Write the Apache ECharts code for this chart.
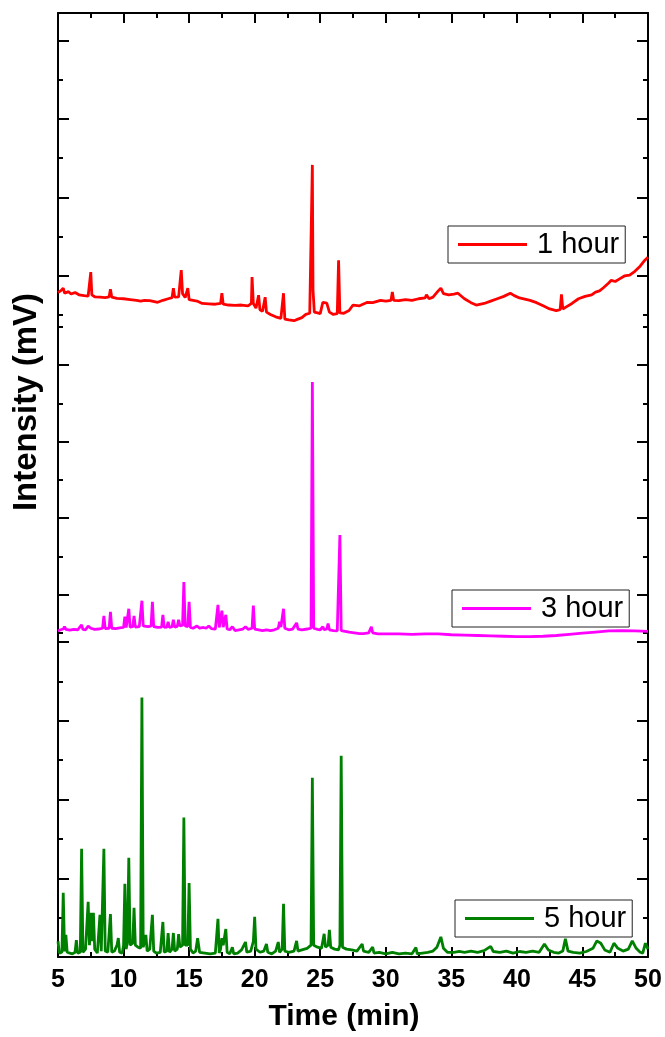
<!DOCTYPE html>
<html>
<head>
<meta charset="utf-8">
<script src="https://cdn.jsdelivr.net/npm/echarts@6/dist/echarts.min.js"></script>
<style>
  html, body { margin: 0; padding: 0; background: #fff; }
  #chart { width: 665px; height: 1037px; }
</style>
</head>
<body>
<div id="chart"></div>
<script>
// x axis (min)
var timeTicks = [5, 10, 15, 20, 25, 30, 35, 40, 45, 50];

// chromatograms: [time (min), intensity (arb. mV)]
var hour1 = [
  [5.0, 58], [5.2, 62], [5.4, 69], [5.5, 56], [5.8, 60], [6.0, 54], [6.3, 58], [6.6, 52], [7.0, 50], [7.3, 49],
  [7.45, 52], [7.5, 110], [7.58, 52], [7.8, 47], [8.2, 46], [8.6, 45], [8.9, 47], [9.0, 66], [9.1, 46], [9.5, 43],
  [10.0, 42], [10.5, 40], [11.0, 38], [11.3, 36], [11.6, 38], [12.0, 37], [12.6, 33], [13.0, 38], [13.4, 42], [13.7, 45],
  [13.8, 69], [13.9, 46], [14.2, 47], [14.35, 50], [14.4, 115], [14.5, 55], [14.7, 45], [14.9, 69], [15.0, 40], [15.3, 38],
  [15.6, 36], [16.0, 30], [16.5, 29], [17.0, 28], [17.4, 30], [17.5, 56], [17.6, 28], [18.0, 26], [18.5, 25], [19.0, 26],
  [19.5, 24], [19.75, 30], [19.8, 97], [19.9, 30], [20.1, 18], [20.3, 51], [20.4, 14], [20.6, 10], [20.8, 46], [20.9, 8],
  [21.2, 2], [21.6, -4], [22.0, -8], [22.15, -6], [22.2, 56], [22.3, -10], [22.6, -12], [23.0, -14], [23.3, -10], [23.6, -6],
  [23.9, 2], [24.2, 5], [24.35, 6], [24.4, 383], [24.45, 64], [24.55, 8], [24.8, 6], [25.0, 4], [25.2, 33], [25.5, 31],
  [25.7, 8], [26.0, 2], [26.3, 4], [26.4, 140], [26.5, 6], [26.8, 5], [27.2, 12], [27.5, 26], [28.0, 24], [28.6, 33],
  [29.0, 32], [29.6, 38], [30.0, 36], [30.4, 38], [30.5, 59], [30.6, 38], [31.0, 37], [31.5, 40], [32.0, 38], [32.5, 42],
  [33.0, 44], [33.1, 52], [33.3, 42], [33.6, 46], [34.0, 62], [34.2, 69], [34.4, 55], [34.8, 52], [35.2, 54], [35.5, 56],
  [36.0, 42], [36.5, 32], [36.9, 26], [37.5, 30], [38.0, 36], [38.5, 42], [39.0, 48], [39.5, 56], [39.8, 50], [40.2, 44],
  [41.0, 38], [41.5, 32], [42.0, 24], [42.5, 16], [43.0, 12], [43.3, 14], [43.4, 53], [43.5, 16], [43.8, 22], [44.2, 30],
  [44.7, 42], [45.2, 48], [45.7, 52], [46.0, 59], [46.3, 62], [46.6, 70], [47.0, 82], [47.2, 89], [47.5, 86], [47.8, 92],
  [48.2, 100], [48.6, 102], [49.0, 112], [49.4, 125], [49.7, 138], [50.0, 148]
];

var hour3 = [
  [5.0, 5], [5.2, 8], [5.4, 10], [5.5, 16], [5.6, 9], [5.9, 7], [6.2, 9], [6.5, 8], [6.8, 21], [6.9, 9],
  [7.1, 8], [7.3, 18], [7.5, 12], [7.8, 9], [8.1, 10], [8.4, 12], [8.5, 44], [8.6, 11], [8.9, 12], [9.0, 55],
  [9.1, 12], [9.4, 11], [9.7, 13], [10.0, 14], [10.1, 42], [10.2, 14], [10.3, 16], [10.4, 63], [10.5, 15], [10.7, 16],
  [10.8, 44], [10.9, 15], [11.2, 16], [11.3, 18], [11.4, 84], [11.5, 18], [11.7, 17], [11.9, 16], [12.1, 18], [12.2, 81],
  [12.3, 16], [12.6, 14], [12.9, 15], [13.0, 47], [13.1, 14], [13.3, 15], [13.4, 29], [13.5, 14], [13.7, 16], [13.8, 34],
  [13.9, 15], [14.1, 17], [14.2, 34], [14.3, 18], [14.5, 20], [14.6, 133], [14.7, 18], [14.9, 16], [15.0, 81], [15.1, 14],
  [15.3, 12], [15.6, 18], [15.8, 12], [16.1, 14], [16.3, 12], [16.5, 18], [16.7, 11], [17.0, 10], [17.1, 14], [17.2, 73],
  [17.3, 14], [17.4, 16], [17.5, 58], [17.6, 15], [17.8, 47], [17.9, 10], [18.1, 8], [18.3, 16], [18.5, 6], [18.8, 8],
  [19.1, 10], [19.3, 16], [19.5, 9], [19.8, 12], [19.9, 71], [20.0, 10], [20.3, 8], [20.6, 6], [20.9, 8], [21.2, 6],
  [21.5, 8], [21.8, 12], [21.9, 29], [22.0, 15], [22.2, 63], [22.3, 12], [22.6, 8], [22.9, 10], [23.2, 26], [23.3, 10],
  [23.6, 8], [24.0, 10], [24.3, 12], [24.4, 656], [24.5, 12], [24.8, 9], [25.0, 8], [25.2, 16], [25.3, 8], [25.5, 10],
  [25.6, 24], [25.7, 8], [26.0, 6], [26.3, 5], [26.4, 8], [26.5, 256], [26.6, 6], [26.9, 4], [27.2, 2], [27.6, 0],
  [28.0, -2], [28.1, 3], [28.3, -2], [28.7, 0], [28.9, 16], [29.0, 0], [29.4, -3], [30.0, -3], [31.0, -3], [32.0, -4],
  [33.0, -3], [34.0, -3], [35.0, -5], [36.0, -6], [37.0, -7], [38.0, -8], [39.0, -9], [40.0, -10], [41.0, -10], [42.0, -9],
  [43.0, -7], [44.0, -4], [45.0, -1], [46.0, 2], [47.0, 5], [48.0, 6], [49.0, 5], [50.0, 4]
];

var hour5 = [
  [5.0, 40], [5.1, 10], [5.3, 12], [5.4, 163], [5.5, 14], [5.6, 56], [5.7, 12], [5.9, 10], [6.1, 8], [6.3, 12],
  [6.4, 43], [6.5, 10], [6.7, 12], [6.8, 275], [6.9, 12], [7.1, 20], [7.3, 140], [7.4, 30], [7.5, 112], [7.6, 40],
  [7.7, 112], [7.8, 20], [8.0, 10], [8.1, 15], [8.2, 107], [8.3, 15], [8.4, 20], [8.5, 275], [8.6, 15], [8.8, 12],
  [9.0, 109], [9.1, 12], [9.3, 15], [9.5, 30], [9.6, 48], [9.7, 12], [9.9, 10], [10.0, 30], [10.1, 186], [10.2, 20],
  [10.3, 40], [10.4, 252], [10.5, 30], [10.7, 35], [10.8, 125], [10.9, 30], [11.1, 25], [11.3, 22], [11.4, 659], [11.5, 25],
  [11.7, 56], [11.8, 15], [12.0, 20], [12.2, 107], [12.3, 15], [12.5, 10], [12.8, 12], [13.0, 89], [13.1, 12], [13.3, 15],
  [13.4, 61], [13.5, 12], [13.7, 20], [13.8, 61], [13.9, 15], [14.1, 20], [14.2, 58], [14.3, 25], [14.5, 30], [14.6, 354],
  [14.7, 30], [14.9, 30], [15.0, 188], [15.1, 20], [15.3, 10], [15.5, 15], [15.65, 48], [15.8, 12], [16.2, 10], [16.6, 8],
  [17.0, 10], [17.2, 97], [17.3, 10], [17.4, 20], [17.5, 48], [17.6, 30], [17.8, 71], [17.9, 12], [18.1, 8], [18.3, 25],
  [18.4, 8], [18.7, 10], [19.0, 18], [19.3, 38], [19.4, 12], [19.7, 15], [19.9, 40], [20.0, 102], [20.1, 20], [20.4, 12],
  [20.7, 15], [20.9, 33], [21.0, 12], [21.3, 8], [21.6, 15], [21.8, 38], [21.9, 12], [22.1, 20], [22.2, 135], [22.3, 15],
  [22.6, 12], [23.0, 15], [23.2, 41], [23.3, 15], [23.6, 18], [24.0, 22], [24.3, 30], [24.4, 455], [24.5, 30], [24.8, 25],
  [25.1, 22], [25.3, 59], [25.4, 25], [25.6, 30], [25.7, 69], [25.8, 25], [26.1, 20], [26.4, 18], [26.5, 30], [26.6, 511],
  [26.7, 25], [27.0, 20], [27.4, 18], [27.8, 15], [28.2, 33], [28.3, 15], [28.7, 12], [29.0, 25], [29.1, 10], [29.5, 12],
  [30.0, 8], [30.5, 12], [31.0, 8], [31.5, 10], [32.0, 8], [32.3, 24], [32.4, 8], [32.8, 10], [33.2, 12], [33.6, 15],
  [33.9, 25], [34.2, 51], [34.4, 22], [34.7, 12], [35.2, 12], [35.6, 14], [36.0, 12], [36.5, 15], [37.0, 12], [37.5, 16],
  [38.0, 27], [38.2, 14], [38.7, 12], [39.2, 15], [39.7, 10], [40.2, 14], [40.7, 12], [41.2, 15], [41.7, 12], [42.1, 33],
  [42.4, 18], [42.8, 12], [43.2, 10], [43.5, 15], [43.7, 46], [43.9, 15], [44.3, 12], [44.8, 10], [45.3, 14], [45.8, 22],
  [46.1, 41], [46.4, 35], [46.7, 18], [47.1, 12], [47.4, 35], [47.7, 22], [48.1, 15], [48.5, 20], [48.8, 41], [49.1, 22],
  [49.4, 12], [49.6, 10], [49.8, 35], [50.0, 20]
];

// y tick values of each stacked panel (no labels are printed)
var topMajor = [100, 300, 500, 700];
var topMinor = [0, 200, 400, 600];
var midMajor = [100, 300, 500, 700];
var midMinor = [0, 200, 400, 600, 800];
var botMajor = [200, 400, 600, 800];
var botMinor = [100, 300, 500, 700];

var names = ['1 hour', '3 hour', '5 hour'];
var colors = ['#ff0000', '#ff00ff', '#008000'];

var font = 'Liberation Sans';
var chart = echarts.init(document.getElementById('chart'), null, { renderer: 'canvas' });

var panels = [
  { top: 13, height: 314, min: -30, max: 770, major: topMajor, minor: topMinor },
  { top: 327, height: 315, min: -24, max: 800, major: midMajor, minor: midMinor },
  { top: 642, height: 315, min: 0, max: 800, major: botMajor, minor: botMinor }
];

function yAxisFor(g, side, ticks, len, showLine) {
  var p = panels[g];
  return {
    type: 'value', gridIndex: g, position: side, min: p.min, max: p.max,
    axisLine: { show: showLine, onZero: false, lineStyle: { color: '#000', width: 2 } },
    axisTick: { show: true, inside: true, length: len, customValues: ticks, lineStyle: { color: '#000', width: 2 } },
    axisLabel: { show: false },
    splitLine: { show: false }
  };
}

var yAxes = [];
panels.forEach(function (p, g) {
  yAxes.push(yAxisFor(g, 'left', p.major, 11, true));
  yAxes.push(yAxisFor(g, 'left', p.minor, 5, false));
  yAxes.push(yAxisFor(g, 'right', p.major, 11, true));
  yAxes.push(yAxisFor(g, 'right', p.minor, 5, false));
});

var tickStyle = { color: '#000', width: 2 };
var option = {
  backgroundColor: '#fff',
  animation: false,
  grid: panels.map(function (p) {
    return { left: 58, right: 17, top: p.top, height: p.height, containLabel: false };
  }),
  xAxis: [
    {
      type: 'value', gridIndex: 0, position: 'top', min: 5, max: 50, interval: 5,
      axisLine: { onZero: false, lineStyle: { color: '#000', width: 2 } },
      axisTick: { inside: true, length: 10, lineStyle: tickStyle },
      minorTick: { show: true, splitNumber: 2, length: 5, lineStyle: tickStyle },
      axisLabel: { show: false },
      splitLine: { show: false }
    },
    { type: 'value', gridIndex: 1, min: 5, max: 50, show: false },
    {
      type: 'value', gridIndex: 2, position: 'bottom', min: 5, max: 50, interval: 5,
      axisLine: { onZero: false, lineStyle: { color: '#000', width: 2 } },
      axisTick: { inside: true, length: 10, lineStyle: tickStyle },
      minorTick: { show: true, splitNumber: 2, length: 5, lineStyle: tickStyle },
      axisLabel: {
        margin: 11, color: '#000', fontFamily: font, fontWeight: 'bold', fontSize: 25,
        customValues: timeTicks
      },
      splitLine: { show: false }
    }
  ],
  yAxis: yAxes,
  legend: [
    { left: 448, top: 226, data: [names[0]] },
    { left: 452, top: 590, data: [names[1]] },
    { left: 455, top: 900, data: [names[2]] }
  ].map(function (l) {
    l.icon = 'rect';
    l.itemWidth = 69;
    l.itemHeight = 3;
    l.selectedMode = false;
    l.borderColor = '#222';
    l.borderWidth = 1;
    l.padding = [4, 6, 4, 10];
    l.textStyle = { fontFamily: font, fontSize: 29, color: '#000', padding: [0, 0, 0, 5] };
    return l;
  }),
  series: [hour1, hour3, hour5].map(function (d, g) {
    return {
      name: names[g], type: 'line', xAxisIndex: g, yAxisIndex: g * 4,
      data: d, showSymbol: false, symbol: 'none',
      lineStyle: { color: colors[g], width: 2.8 },
      itemStyle: { color: colors[g] }
    };
  }),
  graphic: [
    {
      type: 'text', x: 344, y: 1017,
      style: { text: 'Time (min)', font: 'bold 30px "Liberation Sans"', fill: '#000', align: 'center', verticalAlign: 'middle' }
    },
    {
      type: 'text', x: 27, y: 402, rotation: Math.PI / 2,
      style: { text: 'Intensity (mV)', font: 'bold 33px "Liberation Sans"', fill: '#000', align: 'center', verticalAlign: 'middle' }
    }
  ]
};

chart.setOption(option);
</script>
</body>
</html>
